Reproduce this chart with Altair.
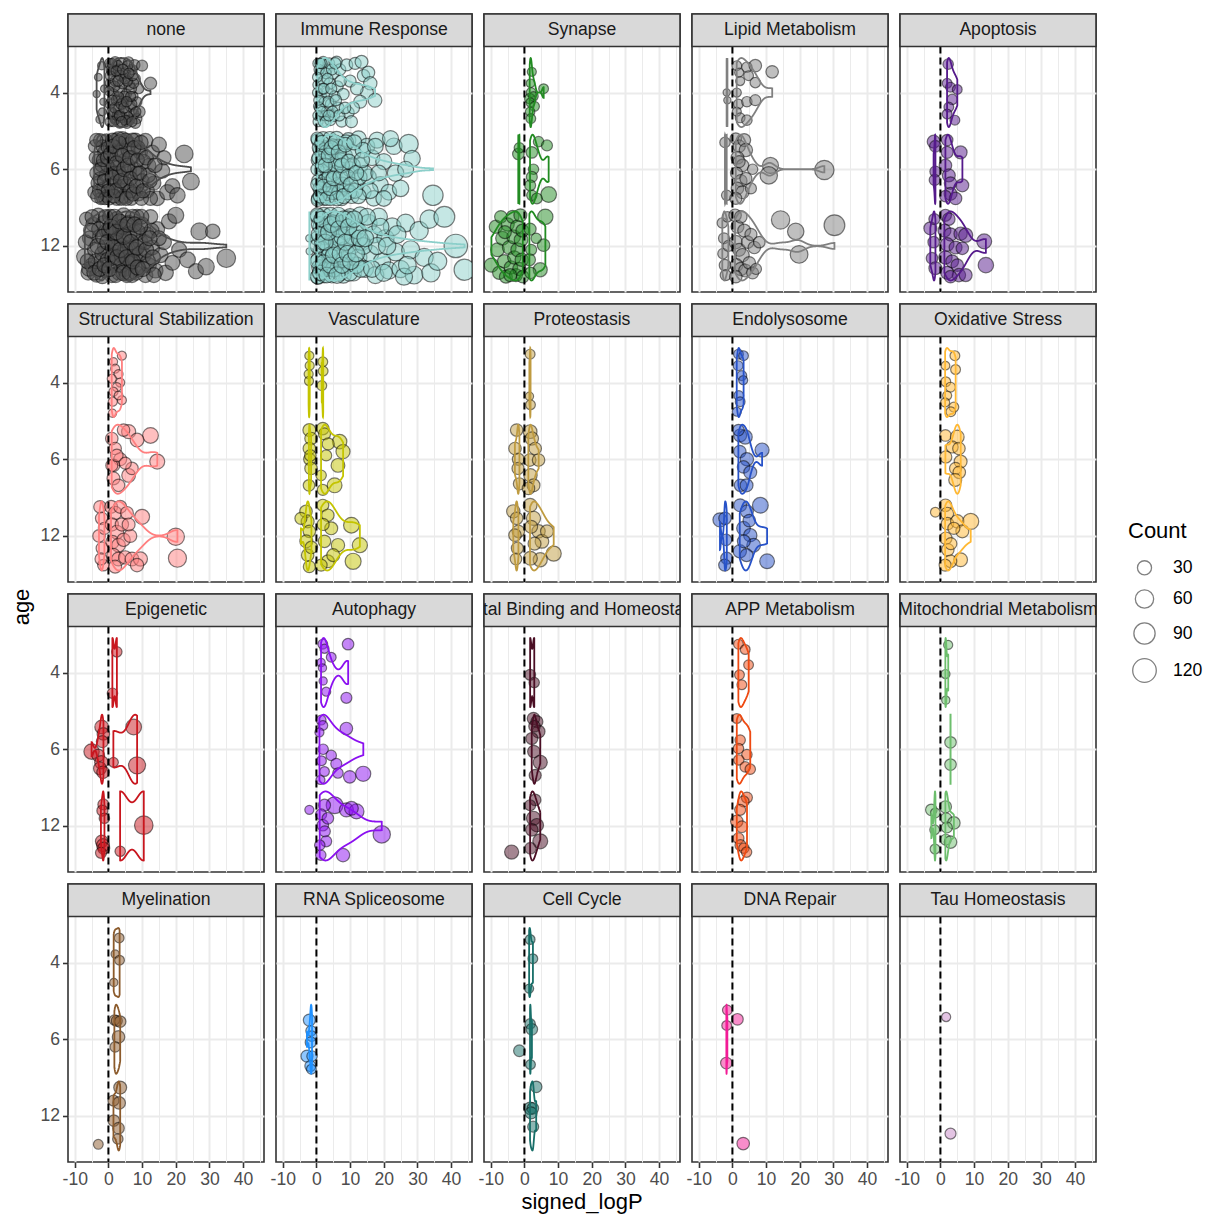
import altair as alt
import pandas as pd

CATEGORIES = ["none", "Immune Response", "Synapse", "Lipid Metabolism", "Apoptosis",
              "Structural Stabilization", "Vasculature", "Proteostasis", "Endolysosome", "Oxidative Stress",
              "Epigenetic", "Autophagy", "Metal Binding and Homeostasis", "APP Metabolism", "Mitochondrial Metabolism",
              "Myelination", "RNA Spliceosome", "Cell Cycle", "DNA Repair", "Tau Homeostasis"]
COLORS = ["#4D4D4D", "#8CCFCA", "#228B22", "#808080", "#551A8B",
          "#FF7F7F", "#C4C400", "#BF9B40", "#2752C8", "#FFB833",
          "#C8161E", "#8B10F0", "#4A0E24", "#EE4A12", "#6DBE6D",
          "#8B5A2B", "#1E90FF", "#176E68", "#F21C96", "#C88AC8"]
AGES = ["4", "6", "12"]

# (signed_logP, vertical jitter, Count)
NONE_4 = [(-3.0,-0.20,7),(-2.0,-0.35,8),(-3.5,0.02,6),(-2.5,0.35,8),(-1.5,0.12,6),(-1.2,-0.05,7),(-1.8,0.25,7),
          (0.3,-0.38,12),(0.6,-0.12,14),(0.4,0.15,12),(0.5,0.38,13),(1.2,-0.28,15),(1.5,0.02,14),(1.3,0.28,15),
          (2.0,-0.40,14),(2.2,-0.15,16),(2.4,0.10,15),(2.1,0.35,14),(3.0,-0.30,15),(3.2,-0.02,17),(3.1,0.22,15),
          (3.4,0.40,13),(4.0,-0.38,14),(4.2,-0.12,16),(4.4,0.12,15),(4.1,0.32,16),(5.0,-0.25,15),(5.3,0.02,14),
          (5.1,0.25,16),(5.5,0.40,14),(6.0,-0.40,13),(6.2,-0.10,15),(6.5,0.18,14),(6.3,0.36,13),(7.0,-0.30,14),
          (7.3,0.05,13),(7.6,0.28,14),(8.0,-0.18,13),(8.5,0.12,12),(8.4,0.34,14),(7.8,-0.36,15),(9.2,0.25,18),
          (10.0,-0.35,16),(12.5,-0.12,21),(9.0,-0.05,13),(8.0,0.40,14),
          (0.8,-0.30,13),(1.8,-0.08,15),(2.6,0.30,14),(3.6,-0.22,15),(4.7,0.05,14),(5.7,-0.35,13),(6.8,-0.05,14),
          (7.5,-0.12,13),(0.9,0.25,12),(1.9,0.20,14),(2.8,-0.35,14),(3.8,0.15,15),(4.9,-0.18,14),(5.9,0.32,13),
          (6.9,0.15,14),(0.2,-0.02,11),(1.0,-0.38,12),(3.0,0.06,15),(5.0,0.36,13),(7.0,0.38,13),
          (0.5,-0.22,12),(1.5,0.38,13),(2.3,-0.28,14),(3.3,0.30,14),(4.3,-0.30,15),(4.6,0.20,14),(5.6,-0.15,14),
          (6.6,0.05,13),(7.2,-0.22,13),(8.2,0.25,12),(1.1,0.10,13),(2.9,-0.15,15),(3.9,0.38,14),(5.4,0.12,14),
          (6.1,-0.25,14)]
NONE_6 = [(-4.0,-0.30,25),(-3.5,0.05,28),(-4.2,0.30,24),(-3.0,-0.12,22),(-3.2,0.18,26),(-2.5,-0.38,24),(-2.2,0.38,22),
          (-2.0,-0.05,25),(-1.5,0.25,24),(-1.2,-0.22,26),(-0.8,0.08,25),(-0.5,0.35,24),(-0.6,-0.38,22),
          (0.5,-0.28,28),(0.8,0.02,30),(1.0,0.30,28),(1.5,-0.12,30),(1.8,0.18,30),(2.2,-0.38,28),(2.5,0.38,28),
          (2.8,-0.02,32),(3.0,0.25,30),(3.5,-0.25,30),(4.0,0.10,32),(4.2,-0.40,28),(4.5,0.35,30),(5.0,-0.12,32),
          (5.5,0.22,30),(6.0,-0.32,30),(6.2,0.02,32),(6.8,0.38,28),(7.0,-0.15,30),(7.5,0.20,30),(8.0,-0.38,30),
          (8.5,0.05,32),(9.0,0.32,30),(9.5,-0.22,30),(10.0,0.15,30),(11.0,-0.37,35),(11.5,0.28,32),(12.0,-0.05,30),
          (13.0,-0.22,32),(13.5,0.18,30),(14.5,0.38,32),(15.0,-0.32,35),(16.0,0.02,34),(16.5,-0.15,30),
          (17.5,0.30,38),(19.0,0.22,35),(20.5,0.34,38),(22.5,-0.20,55),(24.5,0.16,48),(12.5,0.38,30),(3.0,-0.40,28),
          (-3.8,-0.15,24),(-2.8,0.28,25),(-1.8,-0.30,24),(-1.0,0.38,23),(-0.3,-0.05,25),(0.3,0.20,28),(1.2,-0.38,28),
          (2.0,0.05,30),(2.6,-0.20,30),(3.8,0.38,28),(4.8,0.18,30),(5.8,-0.25,30),(6.5,0.28,30),(7.8,0.0,30),
          (8.8,-0.28,30),(9.8,0.38,30),(10.5,-0.10,30),(11.8,0.08,32),(0.2,0.38,26),(1.6,0.35,28),(3.3,0.05,30),
          (5.2,-0.38,30),(7.2,-0.38,28),(-2.6,0.12,24),(-0.2,-0.28,24),
          (-3.6,-0.38,26),(-3.3,0.35,26),(-2.4,0.0,26),(-1.6,-0.12,26),(-1.3,0.15,26),(-0.4,-0.15,26),(-0.1,0.28,26),
          (0.6,-0.20,30),(1.1,0.10,30),(1.4,-0.30,30),(2.1,0.28,30),(2.4,-0.08,32),(3.1,-0.35,30),(3.6,0.15,32),
          (4.1,-0.18,32),(4.6,0.0,32),(5.3,0.38,30),(5.7,-0.05,32),(6.4,-0.15,32),(6.6,0.12,30),(7.3,0.32,30),
          (7.6,-0.28,30),(8.3,0.22,32),(8.6,-0.12,30),(9.3,0.05,30),(9.7,-0.35,30),(10.3,0.28,30),(11.2,-0.15,32),
          (12.3,0.15,32),(13.8,-0.05,32)]
NONE_12 = [(-7.0,0.14,45),(-6.5,-0.35,30),(-6.0,0.35,32),(-5.5,-0.10,35),(-5.0,0.25,30),(-4.5,-0.28,32),(-4.0,0.05,35),
           (-3.5,0.38,30),(-3.0,-0.40,32),(-2.5,-0.12,35),(-2.2,0.20,34),(-1.5,-0.30,32),(-1.0,0.02,36),(-0.8,0.32,32),
           (-0.5,-0.20,34),(0.5,-0.38,35),(0.6,0.10,38),(1.0,0.38,34),(1.5,-0.15,38),(2.0,0.22,36),(2.5,-0.35,35),
           (2.8,0.02,38),(3.2,0.35,34),(3.5,-0.22,36),(4.0,0.12,38),(4.5,-0.40,34),(4.8,0.30,36),(5.2,-0.08,38),
           (5.8,0.20,36),(6.0,-0.30,35),(6.5,0.02,38),(7.0,0.38,34),(7.5,-0.18,36),(8.0,0.15,36),(8.5,-0.38,34),
           (9.0,0.30,35),(9.5,-0.05,36),(10.0,-0.28,34),(10.5,0.12,35),(11.0,0.38,34),(11.5,-0.15,34),(12.0,0.25,35),
           (12.5,-0.38,32),(13.0,0.02,34),(14.0,0.32,35),(14.5,-0.22,34),(15.5,0.12,35),(16.5,-0.05,35),(17.0,0.35,38),
           (18.0,-0.32,36),(19.0,0.22,34),(20.0,-0.40,42),(21.0,0.05,36),(23.5,0.18,40),(26.0,0.33,36),(27.0,-0.19,48),
           (29.0,0.27,45),(31.0,-0.19,32),(35.0,0.16,62),(2.0,-0.05,36),(-1.8,0.40,30),
           (-6.8,-0.05,32),(-5.8,0.30,32),(-4.8,-0.38,32),(-3.8,0.20,34),(-2.8,-0.22,34),(-1.8,0.10,34),(-0.8,-0.38,32),
           (-0.2,0.18,34),(0.2,-0.20,36),(1.2,0.15,36),(1.8,-0.38,36),(2.2,0.38,34),(3.0,-0.10,38),(3.8,0.25,36),
           (4.2,-0.25,36),(5.0,0.05,38),(5.5,0.38,34),(6.2,-0.15,36),(6.8,0.22,36),(7.2,-0.38,34),(7.8,0.05,36),
           (8.2,0.35,34),(8.8,-0.18,36),(9.2,0.10,35),(9.8,-0.38,34),(10.8,-0.05,35),(11.8,0.20,34),(12.8,-0.20,34),
           (13.5,0.38,34),(15.0,-0.10,34),
           (-6.2,0.20,34),(-5.2,-0.20,34),(-4.2,0.35,34),(-3.2,0.00,36),(-2.6,0.30,34),(-1.6,-0.12,36),(-1.2,0.25,34),
           (-0.3,-0.05,36),(0.3,0.30,38),(0.8,-0.25,38),(1.4,0.02,38),(2.3,-0.18,38),(2.6,0.15,38),(3.3,-0.32,36),
           (3.6,0.05,38),(4.4,0.35,36),(4.6,-0.12,38),(5.4,0.15,38),(5.6,-0.28,36),(6.3,0.35,36),(6.7,-0.05,38),
           (7.3,0.20,36),(7.7,-0.28,36),(8.4,0.02,36),(8.7,0.28,36),(9.4,-0.25,36),(10.2,0.30,36),(11.2,0.05,36),
           (12.2,-0.10,36),(13.2,0.15,36)]
IMMUNE_4 = [(0.4,-0.38,12),(0.5,-0.10,14),(0.6,0.18,12),(0.5,0.38,13),(1.2,-0.25,14),(1.4,0.05,15),(1.3,0.30,14),
            (2.0,-0.40,15),(2.2,-0.15,16),(2.4,0.12,14),(2.1,0.38,15),(3.0,-0.30,16),(3.2,0.0,16),(3.1,0.25,15),
            (3.8,-0.38,16),(4.0,-0.12,18),(4.3,0.15,16),(4.1,0.36,16),(5.0,-0.25,18),(5.4,0.05,16),(5.2,0.30,18),
            (6.0,-0.40,18),(6.3,-0.08,16),(6.5,0.20,18),(7.0,-0.30,18),(7.5,0.38,16),(8.0,0.02,18),(9.0,-0.36,20),
            (9.5,0.26,18),(10.0,-0.15,20),(11.5,-0.38,20),(13.4,-0.40,24),(14.0,-0.22,22),(15.4,-0.26,24),
            (16.0,-0.12,26),(15.0,0.0,24),(17.4,0.10,28),(13.0,0.12,24),(11.0,0.20,20),(10.4,0.38,20),(12.0,-0.05,22),
            (0.3,0.0,12),(0.8,-0.30,13),(1.0,0.20,14),(1.8,-0.05,15),(2.6,0.30,14),(2.8,-0.25,15),(3.5,0.12,16),
            (4.6,-0.30,16),(4.8,0.25,16),(5.8,0.10,17),(6.8,0.30,17),(7.2,-0.15,17),(8.5,0.20,18),(0.4,0.30,12),
            (1.6,-0.38,14),
            (0.3,-0.20,12),(0.7,0.10,13),(1.1,-0.38,14),(1.6,0.25,14),(2.2,-0.05,15),(2.7,0.38,15),(3.3,-0.18,16),
            (3.7,0.30,16),(4.4,-0.05,16),(5.6,-0.38,17)]
IMMUNE_6 = [(0.4,-0.38,25),(0.5,-0.12,28),(0.6,0.15,26),(0.5,0.38,25),(1.2,-0.25,30),(1.5,0.02,30),(1.3,0.28,28),
            (2.0,-0.40,28),(2.3,-0.12,32),(2.5,0.15,30),(2.2,0.38,28),(3.0,-0.28,32),(3.3,0.02,32),(3.5,0.28,30),
            (4.0,-0.40,30),(4.2,-0.12,34),(4.5,0.15,32),(4.3,0.38,30),(5.0,-0.25,34),(5.5,0.05,34),(5.2,0.30,32),
            (6.0,-0.40,32),(6.3,-0.10,35),(6.5,0.20,34),(7.0,-0.30,34),(7.5,0.38,32),(8.0,0.05,35),(8.5,-0.18,34),
            (9.0,0.25,34),(9.5,-0.38,35),(10.0,0.0,36),(10.5,0.35,34),(11.0,-0.22,36),(12.0,0.15,36),(12.5,-0.40,38),
            (13.0,-0.05,38),(14.0,0.30,36),(15.0,-0.30,40),(15.5,0.10,38),(16.5,-0.15,40),(17.0,0.38,38),
            (18.0,-0.38,42),(19.0,0.20,40),(20.0,-0.10,42),(21.5,0.30,40),(23.0,-0.30,45),(23.5,0.05,45),
            (25.0,0.25,45),(27.4,-0.33,68),(28.4,-0.14,45),(26.5,0.0,42),(22.0,-0.40,42),(34.6,0.34,80),(20.0,0.38,40),
            (0.3,0.0,24),(0.8,-0.28,28),(1.0,0.25,28),(1.8,-0.05,30),(2.7,0.32,30),(2.8,-0.22,32),(3.8,0.10,32),
            (4.8,-0.30,33),(4.9,0.30,32),(5.8,-0.05,34),(6.8,0.30,34),(7.2,-0.12,34),(7.8,0.20,34),(8.8,-0.35,35),
            (9.8,0.30,35),(10.8,-0.05,36),(11.5,0.28,36),(12.8,0.10,36),(13.8,-0.25,38),(14.5,0.05,38),(16.0,0.28,40),
            (17.5,-0.30,40),(18.5,0.05,40),(0.3,-0.40,25),(0.4,0.40,25),
            (0.3,0.20,26),(0.7,-0.15,28),(1.1,0.35,28),(1.6,-0.35,30),(2.1,0.22,30),(2.6,-0.05,32),(3.1,0.38,30),
            (3.6,-0.18,32),(4.1,0.25,32),(4.4,-0.28,32),(5.1,0.12,34),(5.6,-0.35,32),(6.1,0.38,34),(6.6,-0.22,34),
            (7.1,0.10,34),(7.6,-0.05,34),(8.1,0.35,34),(8.6,-0.32,34),(9.2,0.10,35),(9.6,-0.10,35),(10.2,0.20,36),
            (11.2,-0.35,36),(11.8,0.05,36),(12.5,0.35,36),(13.5,-0.12,38)]
IMMUNE_12 = [(-2.1,-0.10,6),(-2.0,0.07,6),(0.4,-0.38,35),(0.5,-0.10,38),(0.6,0.18,36),(0.5,0.40,35),(1.3,-0.25,40),
             (1.5,0.05,40),(1.4,0.30,38),(2.2,-0.40,40),(2.4,-0.12,42),(2.5,0.15,40),(2.3,0.38,38),(3.2,-0.28,42),
             (3.5,0.02,42),(3.6,0.28,40),(4.2,-0.40,40),(4.5,-0.12,44),(4.8,0.15,42),(4.6,0.38,40),(5.5,-0.25,44),
             (5.8,0.05,44),(5.6,0.30,42),(6.5,-0.40,42),(6.8,-0.10,45),(7.0,0.20,44),(7.5,-0.30,44),(8.0,0.38,42),
             (8.5,0.05,45),(9.0,-0.18,44),(9.5,0.25,44),(10.0,-0.38,45),(10.5,0.0,46),(11.0,0.35,44),(11.5,-0.22,46),
             (12.5,0.15,46),(13.0,-0.40,48),(13.5,-0.05,48),(14.5,0.30,46),(15.5,-0.30,50),(16.0,0.10,48),
             (17.0,-0.15,50),(17.5,0.38,48),(18.5,-0.38,52),(19.5,0.20,50),(20.5,-0.10,52),(21.5,0.32,50),
             (22.5,-0.25,55),(23.5,0.08,55),(25.0,0.30,52),(26.5,-0.30,55),(28.0,0.05,58),(29.0,0.38,55),
             (30.5,-0.20,60),(32.0,0.15,58),(33.5,-0.35,62),(34.0,0.35,60),(38.0,-0.38,85),(41.4,0.0,118),
             (44.0,0.31,88),(36.0,0.20,60),(26.0,0.40,50),
             (0.3,0.0,34),(0.8,-0.28,38),(0.9,0.28,38),(1.8,-0.05,40),(2.8,0.30,40),(2.9,-0.20,42),(3.9,0.12,42),
             (4.9,-0.30,44),(5.1,0.30,42),(6.0,-0.05,44),(7.0,0.35,44),(7.6,-0.12,44),(8.2,0.18,44),(9.2,-0.35,45),
             (9.8,0.35,45),(10.8,-0.12,46),(11.8,0.25,46),(12.2,-0.20,46),(13.2,0.30,46),(14.0,0.0,48),
             (15.0,-0.38,48),(16.5,0.30,48),(18.0,0.0,50),(19.0,-0.25,50),(20.0,0.35,50),(21.0,0.0,52),
             (24.0,-0.15,54),(27.0,0.25,55),(0.3,-0.40,34),(0.4,0.40,34),
             (0.3,0.20,36),(0.7,-0.15,38),(1.1,0.35,38),(1.6,-0.35,40),(2.1,0.22,40),(2.6,-0.05,42),(3.1,0.38,40),
             (3.6,-0.18,42),(4.1,0.25,42),(4.4,-0.28,42),(5.1,0.12,44),(5.6,-0.35,42),(6.1,0.38,44),(6.6,-0.22,44),
             (7.1,0.10,44),(7.6,0.25,44),(8.1,-0.35,44),(8.6,-0.05,45),(9.2,0.10,45),(9.6,-0.25,45),(10.2,0.20,46),
             (11.2,-0.35,46),(11.8,0.10,46),(12.8,-0.10,46),(14.5,-0.10,48)]
SYNAPSE_4 = [(2.2,-0.27,10),(1.8,-0.12,9),(2.0,0.0,12),(1.6,0.08,14),(5.7,-0.05,12),(2.7,0.05,11),(1.8,0.13,10),
             (3.0,0.18,12),(1.7,0.25,11),(1.9,0.34,12)]
SYNAPSE_6 = [(-1.8,-0.20,18),(-1.5,-0.28,14),(2.2,-0.22,18),(4.2,-0.36,14),(6.7,-0.31,16),(2.7,0.0,14),(2.2,0.10,16),
             (1.7,0.21,16),(2.2,0.34,14),(7.2,0.33,40),(3.7,0.38,15)]
SYNAPSE_12 = [(-9.8,0.25,30),(-8.5,-0.25,25),(-8.0,0.05,28),(-7.5,0.35,25),(-7.0,-0.38,22),(-6.5,-0.10,28),
              (-6.0,0.20,26),(-5.5,0.40,24),(-5.0,-0.28,26),(-4.5,0.02,28),(-4.0,0.28,26),(-3.5,-0.38,24),
              (-3.2,-0.12,28),(-3.0,0.15,26),(-2.5,0.38,24),(-2.2,-0.25,26),(-2.0,0.05,28),(-1.5,0.30,26),
              (-1.2,-0.40,24),(-1.0,-0.08,28),(-0.8,0.18,26),(-0.5,0.40,22),(-0.6,-0.20,24),(-5.8,-0.18,24),
              (-4.2,0.38,24),(6.2,-0.38,38),(1.7,-0.22,20),(5.7,-0.01,22),(2.0,0.05,16),(1.5,0.18,20),(4.7,0.31,30),
              (1.8,0.35,18),(3.5,-0.10,14)]
LIPID_4 = [(1.3,-0.35,12),(4.3,-0.33,14),(6.8,-0.35,22),(11.8,-0.27,22),(4.8,-0.22,12),(2.3,-0.15,10),(6.8,-0.13,14),
           (-1.7,0.0,6),(-1.5,0.10,6),(1.3,0.0,10),(1.8,0.15,12),(4.3,0.12,14),(6.8,0.10,16),(1.3,0.25,10),
           (2.3,0.33,12),(4.3,0.36,14),(2.0,-0.26,10)]
LIPID_6 = [(-2.2,-0.35,14),(-1.7,0.34,14),(1.0,-0.40,18),(2.0,-0.30,22),(3.5,-0.38,24),(4.0,-0.25,26),(1.5,-0.15,24),
           (3.0,-0.05,22),(1.2,0.05,20),(2.5,0.15,22),(4.0,0.12,20),(1.5,0.25,22),(3.0,0.30,24),(1.0,0.38,20),
           (5.5,0.25,16),(11.3,-0.05,42),(10.8,0.08,52),(27.3,0.01,70),(6.0,0.0,14),(2.0,-0.10,20)]
LIPID_12 = [(-3.0,-0.30,14),(-2.5,-0.10,16),(-2.8,0.10,14),(-2.2,0.25,18),(-2.0,0.38,16),(-1.5,-0.38,14),(-1.2,0.0,16),
            (0.8,-0.40,22),(1.5,-0.25,24),(2.5,-0.38,22),(3.5,-0.20,24),(1.0,-0.05,26),(2.0,0.05,24),(3.0,0.12,26),
            (4.5,-0.05,22),(5.5,-0.15,20),(6.5,0.02,22),(8.0,-0.05,18),(1.2,0.25,24),(2.5,0.30,26),(3.8,0.32,24),
            (5.0,0.22,22),(6.0,0.35,20),(1.0,0.40,22),(14.3,-0.34,60),(18.8,-0.19,45),(30.3,-0.27,85),
            (19.8,0.11,55),(7.0,0.30,16)]
APOPTOSIS_4 = [(2.3,-0.37,14),(2.0,-0.12,12),(3.0,-0.07,12),(5.0,-0.04,12),(3.5,0.09,14),(2.5,0.19,12),(2.0,0.28,12),
               (4.3,0.36,12)]
APOPTOSIS_6 = [(-2.0,-0.36,24),(-1.5,-0.30,18),(-1.5,0.03,16),(-1.7,0.14,16),(2.0,-0.22,20),(6.0,-0.22,24),
               (1.5,-0.05,22),(2.5,0.08,24),(3.0,0.18,22),(6.5,0.21,24),(3.0,0.32,24),(4.5,0.38,22),(1.5,0.35,18),
               (2.0,-0.38,18)]
APOPTOSIS_12 = [(-3.0,-0.23,24),(-2.0,-0.05,18),(-2.5,0.16,18),(-1.5,0.29,24),(-1.8,-0.35,16),(1.5,-0.40,20),
                (2.5,-0.35,22),(1.2,-0.20,24),(3.0,-0.15,26),(6.0,-0.16,26),(7.5,-0.14,30),(2.0,-0.02,28),
                (4.5,0.02,24),(6.5,0.03,22),(13.0,-0.06,35),(1.5,0.15,26),(3.5,0.20,24),(5.0,0.25,22),
                (13.5,0.25,38),(2.0,0.35,24),(5.5,0.38,26),(7.5,0.38,24),(3.0,0.40,22)]
STRUCT_4 = [(4.0,-0.35,10),(1.5,-0.27,8),(2.0,-0.18,10),(3.0,-0.11,10),(1.0,-0.05,10),(3.5,0.0,10),(2.5,0.06,10),
            (1.5,0.12,10),(4.0,0.23,10),(1.3,0.25,10),(1.2,0.40,8),(3.0,0.17,9)]
STRUCT_6 = [(6.0,-0.36,30),(12.5,-0.31,40),(8.5,-0.25,28),(1.0,-0.27,22),(2.0,-0.14,22),(3.5,0.0,24),(1.5,0.08,22),
            (6.0,0.21,28),(1.5,0.25,24),(3.0,0.34,22),(7.0,0.12,22),(1.0,0.08,20),(14.5,0.03,35),(4.5,-0.38,22),
            (2.5,-0.05,22),(5.0,0.05,20)]
STRUCT_12 = [(-2.5,-0.38,22),(-2.0,-0.23,22),(-2.8,0.0,22),(-1.8,0.16,22),(-1.5,0.38,18),(-2.2,0.30,20),
             (-1.2,-0.10,20),(0.8,-0.38,24),(2.0,-0.30,26),(3.5,-0.38,24),(1.0,-0.15,26),(2.5,-0.05,28),
             (4.0,-0.15,26),(5.5,-0.30,24),(1.2,0.08,26),(3.0,0.12,28),(4.5,0.05,26),(6.5,0.0,24),(1.5,0.25,26),
             (3.0,0.30,28),(5.0,0.28,26),(7.0,0.30,28),(9.5,0.30,30),(8.5,0.38,26),(10.0,-0.25,35),(20.0,0.01,52),
             (20.5,0.29,58),(6.0,-0.15,24),(2.0,0.40,24)]
VASC_4 = [(-2.1,-0.35,10),(-2.0,-0.22,10),(-2.3,-0.11,10),(-2.2,-0.02,10),(1.9,-0.27,12),(2.0,-0.15,12),(1.6,0.04,12)]
VASC_6 = [(-2.1,-0.38,24),(-1.6,-0.27,22),(-2.1,-0.14,22),(-2.0,0.0,20),(-1.6,0.12,22),(-2.2,0.34,18),(-1.8,-0.05,18),
          (1.9,-0.40,22),(2.4,-0.33,20),(6.9,-0.23,32),(7.9,-0.10,30),(2.9,-0.05,16),(6.4,0.08,28),(5.4,0.34,34),
          (1.4,0.21,14),(1.9,0.40,16),(3.5,-0.20,20)]
VASC_12 = [(-3.1,-0.32,22),(-2.6,-0.19,24),(-2.1,-0.06,22),(-3.0,0.07,24),(-2.6,0.25,22),(-2.1,0.40,20),(-4.6,-0.23,20),
           (-1.5,0.15,22),(1.9,-0.40,20),(3.4,-0.27,22),(4.4,-0.10,24),(2.4,0.07,22),(6.4,0.12,26),(10.4,-0.14,40),
           (12.9,0.12,36),(10.9,0.33,42),(3.4,0.33,24),(1.4,0.38,20),(2.0,-0.15,20),(5.0,0.25,24)]
PROTEO_4 = [(1.7,-0.37,12),(1.5,0.18,8),(1.8,0.29,12)]
PROTEO_6 = [(-2.3,-0.38,22),(-2.8,-0.14,22),(-1.8,0.0,20),(-1.9,0.12,20),(-1.5,0.32,20),(1.7,-0.36,28),(2.2,-0.27,26),
            (3.2,-0.14,22),(1.6,0.01,22),(4.2,0.01,22),(1.8,0.21,26),(2.7,0.34,24),(1.2,0.38,22)]
PROTEO_12 = [(-3.3,-0.32,26),(-2.3,-0.23,22),(-1.8,-0.06,22),(-2.8,-0.01,22),(-2.1,0.16,20),(-2.5,0.30,18),
             (1.7,-0.40,28),(2.7,-0.23,30),(4.2,-0.06,26),(5.2,0.07,28),(8.7,0.23,36),(4.7,0.31,30),(1.8,0.29,28),
             (6.7,-0.06,24),(3.0,0.10,24),(2.0,-0.12,24)]
ENDO_4 = [(1.8,-0.37,12),(3.3,-0.35,12),(1.7,-0.22,12),(2.8,-0.09,12),(3.2,-0.03,10),(1.9,0.17,12),(2.3,0.25,12),
          (1.3,0.38,10)]
ENDO_6 = [(2.3,-0.31,24),(3.8,-0.29,30),(8.8,-0.12,30),(2.2,-0.10,22),(4.3,0.0,26),(3.3,0.10,22),(5.3,0.17,24),
          (2.4,0.34,22),(4.2,0.34,24),(1.8,-0.38,18)]
ENDO_12 = [(-3.7,-0.21,30),(-2.2,-0.23,22),(-1.7,0.29,20),(-2.3,0.38,20),(-1.9,0.05,18),(2.3,-0.40,24),(8.3,-0.40,40),
           (4.3,-0.32,24),(3.3,-0.10,28),(5.3,-0.01,26),(6.3,0.12,28),(2.2,0.20,26),(10.3,0.33,34),(4.2,0.25,24),
           (3.4,0.07,24),(5.0,-0.20,22)]
OXI_4 = [(4.3,-0.35,12),(1.5,-0.22,9),(4.5,-0.17,12),(1.6,-0.01,12),(3.0,0.06,12),(2.0,0.17,10),(1.4,0.26,10),
         (4.0,0.32,12),(3.1,0.38,12)]
OXI_6 = [(1.5,-0.31,18),(5.0,-0.29,28),(3.5,-0.16,20),(5.5,-0.14,22),(1.6,-0.03,20),(6.0,0.03,24),(4.5,0.12,20),
         (5.6,0.17,22),(4.4,0.27,24)]
OXI_12 = [(-1.5,-0.31,12),(1.5,-0.40,22),(2.0,-0.29,24),(2.1,-0.16,22),(5.0,-0.19,26),(9.0,-0.19,42),(6.5,-0.06,24),
          (1.6,0.03,22),(2.2,0.18,22),(6.0,0.31,28),(3.0,0.33,22),(1.4,0.38,20),(4.0,-0.10,20),(3.1,0.10,20)]
EPI_4 = [(2.5,-0.27,14),(1.2,0.27,14)]
EPI_6 = [(-2.0,-0.29,28),(-1.5,-0.20,22),(-1.8,-0.10,20),(-5.0,0.03,38),(-3.0,0.08,22),(-2.1,0.17,26),(-2.5,0.25,24),
         (-1.6,0.30,22),(7.5,-0.29,40),(8.5,0.21,50),(1.5,0.17,12)]
EPI_12 = [(-1.5,-0.28,16),(-1.8,-0.20,16),(-1.2,-0.10,14),(-2.0,0.20,22),(-1.6,0.25,24),(-1.4,0.29,20),(-2.2,0.35,16),
          (10.5,-0.01,62),(3.5,0.33,14)]
AUTO_4 = [(1.9,-0.37,12),(2.4,-0.31,10),(9.4,-0.37,18),(4.4,-0.20,12),(1.4,-0.13,8),(1.8,-0.06,8),(2.0,0.11,8),
          (2.9,0.25,10),(8.9,0.33,16)]
AUTO_6 = [(1.4,-0.38,12),(1.9,-0.31,12),(8.9,-0.27,22),(0.9,-0.22,10),(2.0,0.0,14),(4.4,0.08,14),(5.9,0.19,16),
          (6.4,0.31,14),(9.9,0.36,22),(13.9,0.32,36),(1.5,0.15,12),(2.4,0.29,12),(1.2,0.40,10)]
AUTO_12 = [(-2.1,-0.21,10),(5.4,-0.27,48),(8.9,-0.21,30),(11.9,-0.19,35),(10.4,-0.23,28),(2.4,-0.27,20),(1.4,-0.15,16),
           (1.9,-0.01,18),(2.5,0.07,16),(2.9,0.20,16),(1.3,0.38,14),(7.9,0.38,26),(19.4,0.11,52),(3.4,-0.10,18),
           (1.0,0.25,14)]
METAL_4 = [(1.7,0.03,16),(2.9,0.13,14)]
METAL_6 = [(2.7,-0.40,22),(3.7,-0.36,20),(4.2,-0.23,24),(2.2,-0.14,20),(2.8,0.03,22),(4.7,0.17,30),(3.2,0.34,20),
           (3.0,-0.30,18)]
METAL_12 = [(3.2,-0.34,18),(1.7,-0.27,16),(2.7,-0.10,30),(3.7,-0.01,26),(4.7,0.20,35),(1.8,0.29,18),(-3.8,0.34,30),
            (2.2,0.05,22)]
APP_4 = [(1.8,-0.37,12),(3.8,-0.30,12),(4.8,-0.10,12),(2.1,0.03,12),(2.8,0.16,12)]
APP_6 = [(1.3,-0.40,12),(2.3,-0.12,14),(1.8,-0.01,14),(4.3,0.07,14),(1.9,0.14,14),(3.8,0.23,14),(5.3,0.26,14)]
APP_12 = [(4.3,-0.37,16),(3.3,-0.32,16),(2.3,-0.21,16),(1.3,-0.06,22),(2.8,0.01,18),(1.8,0.16,16),(2.4,0.25,16),
          (3.4,0.29,14),(4.2,0.34,14)]
MITO_4 = [(2.3,-0.36,10),(1.5,0.02,10),(1.6,0.36,8)]
MITO_6 = [(3.0,-0.09,18),(3.0,0.20,18)]
MITO_12 = [(-2.7,-0.21,18),(-1.5,-0.17,12),(-1.7,0.05,12),(-1.6,0.30,12),(1.5,-0.25,20),(1.7,-0.10,16),(4.0,-0.04,22),
           (1.9,0.02,16),(1.6,0.18,16),(3.0,0.21,22)]
MYEL_4 = [(3.2,-0.32,12),(2.0,-0.11,8),(3.3,-0.03,12),(1.6,0.26,8)]
MYEL_6 = [(1.8,-0.25,14),(2.5,-0.24,16),(3.5,-0.23,18),(3.0,-0.03,22),(2.0,0.10,14)]
MYEL_12 = [(3.5,-0.37,24),(1.5,-0.20,16),(3.2,-0.17,22),(1.6,0.06,18),(3.0,0.16,18),(2.8,0.30,14),(-3.0,0.37,12)]
RNA_6 = [(-2.1,-0.25,20),(-1.6,-0.11,14),(-1.4,-0.04,14),(-1.7,0.04,16),(-2.8,0.22,20),(-1.3,0.22,14),(-1.8,0.35,16),
         (-1.5,0.39,12)]
CELL_4 = [(1.7,-0.30,12),(2.5,-0.05,12),(1.4,0.34,10)]
CELL_6 = [(1.7,-0.20,14),(2.2,-0.13,18),(-1.5,0.15,18),(1.8,0.33,12)]
CELL_12 = [(3.5,-0.38,18),(1.7,-0.10,22),(2.5,-0.10,18),(2.0,-0.04,20),(2.6,0.14,16)]
DNA_6 = [(-1.5,-0.38,12),(1.5,-0.26,18),(-1.7,-0.18,12),(-1.8,0.31,18)]
DNA_12 = [(3.2,0.36,22)]
TAU_6 = [(1.7,-0.29,10)]
TAU_12 = [(3.0,0.23,16)]

PANELS = [
    (NONE_4, NONE_6, NONE_12), (IMMUNE_4, IMMUNE_6, IMMUNE_12), (SYNAPSE_4, SYNAPSE_6, SYNAPSE_12),
    (LIPID_4, LIPID_6, LIPID_12), (APOPTOSIS_4, APOPTOSIS_6, APOPTOSIS_12),
    (STRUCT_4, STRUCT_6, STRUCT_12), (VASC_4, VASC_6, VASC_12), (PROTEO_4, PROTEO_6, PROTEO_12),
    (ENDO_4, ENDO_6, ENDO_12), (OXI_4, OXI_6, OXI_12),
    (EPI_4, EPI_6, EPI_12), (AUTO_4, AUTO_6, AUTO_12), (METAL_4, METAL_6, METAL_12),
    (APP_4, APP_6, APP_12), (MITO_4, MITO_6, MITO_12),
    (MYEL_4, MYEL_6, MYEL_12), ([], RNA_6, []), (CELL_4, CELL_6, CELL_12), ([], DNA_6, DNA_12), ([], TAU_6, TAU_12),
]

rows = []
for cat, groups in zip(CATEGORIES, PANELS):
    for lvl, (age, pts) in enumerate(zip(AGES, groups), start=1):
        for x, j, c in pts:
            rows.append(dict(category=cat, age=age, level=lvl, signed_logP=x, ypos=lvl + j, Count=c,
                             sign="neg" if x < 0 else "pos"))
df = pd.DataFrame(rows)

W, H, S = 196, 278, 32.5
P = H - S
YMIN = 0.4 - 3.2 * S / P
FONT = "Liberation Sans"

XS = alt.Scale(domain=[-12, 46.2], nice=False, zero=False)
YS = alt.Scale(domain=[YMIN, 3.6], nice=False, zero=False, reverse=True)
CS = alt.Scale(domain=CATEGORIES, range=COLORS)
SS = alt.Scale(type="pow", exponent=0.7, domain=[3, 125], range=[25, 573], zero=False)

MAJOR = "datum.value % 10 === 0"
XGRID = dict(values=list(range(-10, 46, 5)), domain=False, gridColor="#EBEBEB",
             gridWidth={"condition": {"test": MAJOR, "value": 2}, "value": 1}, title=None)
XAX_SHOW = alt.Axis(labelExpr="datum.value % 10 === 0 ? '' + datum.value : ''",
                    labelFontSize=17.6, labelColor="#4D4D4D", labelFlush=False, labelOverlap=False,
                    labelPadding=3, tickColor="#333333", tickSize=5.5, tickWidth=1.6,
                    tickOpacity={"condition": {"test": MAJOR, "value": 1}, "value": 0}, **XGRID)
XAX_HIDE = alt.Axis(labels=False, ticks=False, **XGRID)
YGRID = dict(values=[1, 2, 3], domain=False, gridColor="#EBEBEB", gridWidth=2, title=None)
YAX_SHOW = alt.Axis(labelExpr="datum.value == 1 ? '4' : (datum.value == 2 ? '6' : '12')",
                    labelFontSize=17.6, labelColor="#4D4D4D", labelFlush=False, labelPadding=3,
                    tickColor="#333333", tickSize=5.5, tickWidth=1.6, **YGRID)
YAX_HIDE = alt.Axis(labels=False, ticks=False, **YGRID)

SIZE_LEGEND = alt.Legend(
    title="Count", values=[30, 60, 90, 120], orient="none", legendX=1060, legendY=507,
    titleFontSize=22, titleFontWeight="normal", titleColor="black", titlePadding=16,
    labelFontSize=17.6, labelColor="black", labelOffset=16, rowPadding=9, symbolOffset=4,
    symbolType="circle", symbolFillColor="white", symbolStrokeColor="#808080",
    symbolStrokeWidth=1.3, symbolOpacity=1)


def panel(idx, cat):
    r, c = divmod(idx, 5)
    xax = XAX_SHOW if r == 3 else XAX_HIDE
    yax = YAX_SHOW if c == 0 else YAX_HIDE
    sub = df[df.category == cat]
    one = pd.DataFrame({"category": [cat], "z": [0]})

    points = alt.Chart(sub).mark_circle(stroke="black", strokeWidth=1.2, strokeOpacity=0.5, fillOpacity=0.5,
                                        opacity=1, clip=True).encode(
        x=alt.X("signed_logP:Q", scale=XS, axis=xax),
        y=alt.Y("ypos:Q", scale=YS, axis=yax),
        color=alt.Color("category:N", scale=CS, legend=None),
        size=alt.Size("Count:Q", scale=SS, legend=SIZE_LEGEND if idx == 0 else None),
    )
    violins = alt.Chart(sub).transform_joinaggregate(
        n="count()", xmin="min(signed_logP)", xmax="max(signed_logP)", groupby=["age", "sign"]
    ).transform_filter("datum.n >= 2").transform_density(
        "signed_logP", groupby=["category", "age", "sign", "level", "xmin", "xmax"],
        as_=["value", "density"], steps=1200
    ).transform_filter(
        "datum.value >= datum.xmin - 0.03 && datum.value <= datum.xmax + 0.03"
    ).transform_joinaggregate(
        maxd="max(density)", groupby=["age", "sign"]
    ).transform_calculate(
        lo="datum.level - 0.45 * datum.density / datum.maxd",
        hi="datum.level + 0.45 * datum.density / datum.maxd",
        grp="datum.age + '_' + datum.sign",
    ).mark_area(orient="vertical", fillOpacity=0, strokeWidth=1.8, clip=True).encode(
        x=alt.X("value:Q", scale=XS, axis=xax),
        y=alt.Y("lo:Q", scale=YS, axis=yax),
        y2="hi:Q",
        stroke=alt.Stroke("category:N", scale=CS, legend=None),
        detail="grp:N",
    )
    zero = alt.Chart(one).mark_rule(color="black", strokeDash=[7, 4], strokeWidth=2).encode(
        x=alt.X("z:Q", scale=XS, axis=xax), y=alt.value(S), y2=alt.value(H))
    strip = alt.Chart(one).mark_rect(fill="#D9D9D9", stroke="#333333", strokeWidth=1.6).encode(
        x=alt.value(0), x2=alt.value(W), y=alt.value(0), y2=alt.value(S))
    strip_text = alt.Chart(one).mark_text(
        font=FONT, fontSize=17.6, color="#1A1A1A", baseline="middle", align="center", clip=True).encode(
        text="category:N", x=alt.value(W / 2), y=alt.value(S / 2))
    layers = [points, violins, zero, strip, strip_text]
    if cat == "Structural Stabilization":
        layers.append(alt.Chart(one).mark_text(
            text="age", angle=270, font=FONT, fontSize=22, color="black", baseline="middle",
            align="center").encode(x=alt.value(-46.5), y=alt.value(303)))
    if cat == "Cell Cycle":
        layers.append(alt.Chart(one).mark_text(
            text="signed_logP", font=FONT, fontSize=22, color="black", baseline="alphabetic",
            align="center").encode(x=alt.value(W / 2), y=alt.value(325)))
    return alt.layer(*layers).properties(width=W, height=H)


chart = alt.concat(
    *[panel(i, cat) for i, cat in enumerate(CATEGORIES)], columns=5, spacing=12, bounds="flush"
).resolve_scale(
    size="independent", color="independent", stroke="independent"
).properties(
    padding={"left": 1, "top": 4, "right": 5, "bottom": 0}
).configure(font=FONT).configure_view(stroke="#333333", strokeWidth=1.6)

chart.save("out.html", embed_options={"renderer": "svg", "actions": False})
